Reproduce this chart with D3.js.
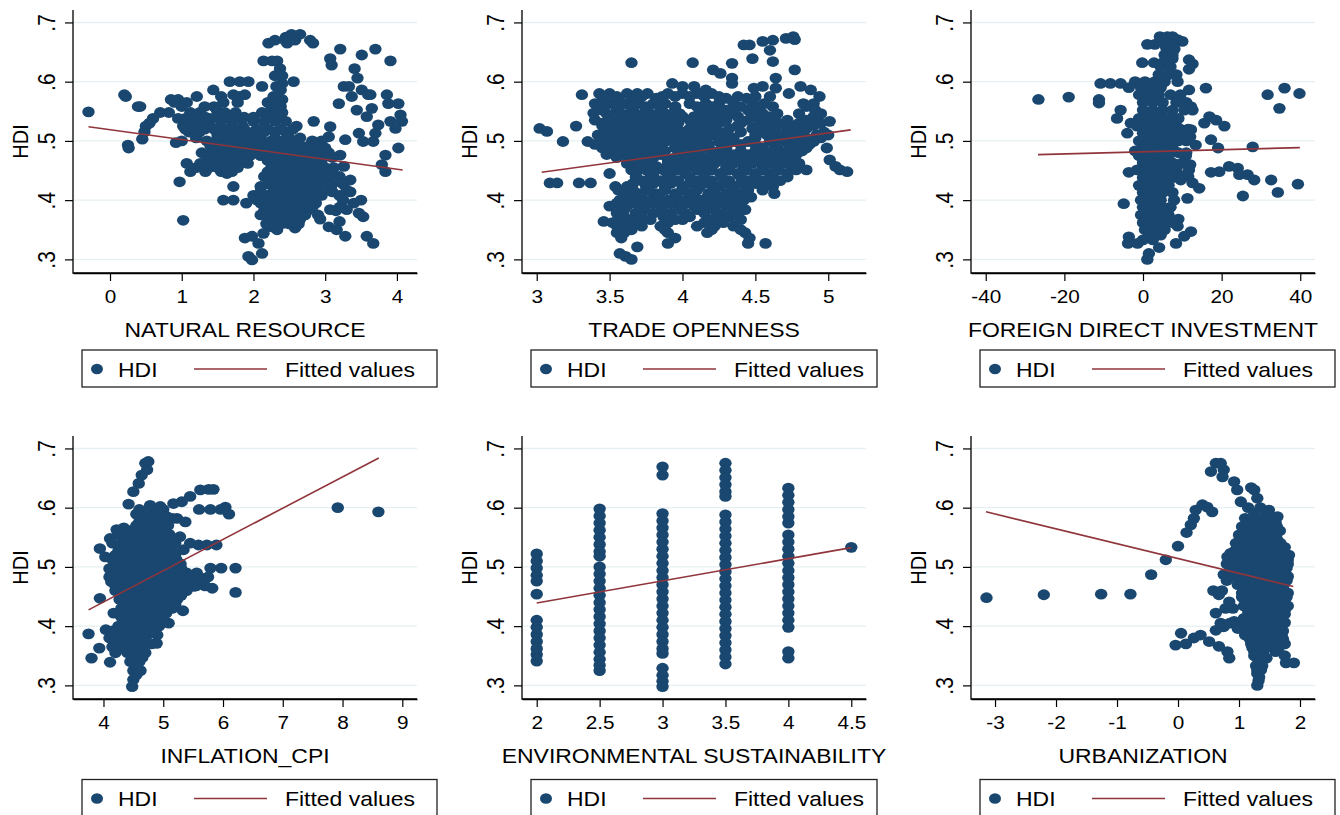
<!DOCTYPE html>
<html>
<head>
<meta charset="utf-8">
<script src="https://cdn.jsdelivr.net/npm/d3@7"></script>
<style>
  html, body { margin: 0; padding: 0; background: #fff; }
  svg { display: block; }
  text { font-family: "Liberation Sans", Arial, Helvetica, sans-serif; fill: #000; }
</style>
</head>
<body>
<script>
// ---- data: rows are [HDI, x1, x2, ...] ----
const nrRows = [
  [.68, 2.53, 2.65], [.675, 2.45], [.67, 2.3, 2.44, 2.58, 2.79], [.665, 2.21, 2.47, 2.83],
  [.655, 3.21, 3.7], [.645, 3.51], [.639, 3.07], [.635, 2.14, 2.26, 2.33, 3.91], [.628, 3.09],
  [.622, 2.37, 3.41], [.61, 2.3, 2.4], [.606, 3.45], [.6, 1.67, 1.81, 1.93, 2.56], [.597, 2.4],
  [.592, 2.12, 2.32, 3.26, 3.33], [.586, 1.44, 2.38, 3.51], [.578, 0.2, 1.72, 1.88, 3.6, 3.63, 3.86],
  [.575, 0.22, 1.21, 1.55, 1.8, 2.28, 3.37], [.57, 0.85, 0.95, 2.4],
  [.565, 0.9, 1.07, 1.58, 1.78, 2.2, 2.35], [.563, 3.19, 3.88, 4.02],
  [.558, 0.39, 0.42, 1.0, 1.32, 1.45, 2.25, 2.38], [.555, 3.65], [.552, 1.49, 3.44],
  [.548, 0.7, 0.82, 1.12, 1.25, 1.6, 1.75, 2.12, 2.25, 2.4], [.544, 4.05], [.541, 3.58],
  [.538, 0.6, 0.95, 1.05, 1.38, 1.52, 1.66, 1.8], [.533, 2.0, 2.15, 2.3, 2.45, 2.84, 3.91, 4.07],
  [.53, 0.55, 1.15, 1.28], [.527, 3.74], [.525, 0.5, 1.02, 1.4, 1.55, 1.7, 1.85, 2.6], [.524, 3.07],
  [.521, 3.98], [.515, 0.48, 1.1, 1.25, 2.0, 2.15, 2.3, 2.45], [.513, 3.47, 3.7],
  [.51, 1.5, 1.65, 1.8, 1.95], [.507, 3.05], [.503, 0.45], [.502, 3.28],
  [.5, 1.0, 1.35, 2.1, 2.25, 2.4, 2.55, 2.82, 2.95], [.499, 3.53, 3.67],
  [.497, 0.92, 1.55, 1.7, 1.85], [.493, 0.25], [.488, 0.26, 1.5, 1.98, 2.12, 2.7, 2.85, 3.0, 4.02],
  [.485, 1.65, 1.8, 2.3, 2.45], [.476, 3.21, 3.84], [.475, 1.35, 1.5, 1.95, 2.1, 2.55, 2.7, 2.85, 3.0],
  [.472, 1.65, 1.8, 2.25, 2.4, 3.1], [.462, 1.07, 1.26, 1.45, 1.62, 1.78, 1.92, 2.3, 2.45, 2.6, 2.75, 2.9],
  [.46, 3.79], [.457, 3.26], [.448, 1.12, 1.33, 1.55, 1.7, 2.2, 2.38, 2.52, 2.66, 2.8, 2.95, 3.84],
  [.445, 1.63, 3.08], [.434, 2.25, 2.4, 2.55, 2.7, 2.85, 3.0, 3.35], [.431, 0.97], [.423, 1.72, 2.1],
  [.42, 2.3, 2.45, 2.6, 2.75, 2.9, 3.05], [.417, 3.3], [.408, 2.0, 2.2, 2.35, 2.5, 2.65, 2.8, 2.95, 3.2],
  [.4, 1.58, 1.72], [.395, 1.9, 2.1, 2.28, 2.42, 2.57, 2.72, 2.87, 3.4], [.384, 3.07, 3.3],
  [.382, 2.15, 2.3, 2.45, 2.6, 2.75, 3.15], [.378, 3.47], [.372, 3.53], [.368, 2.2, 2.35, 2.5, 2.65, 2.93],
  [.366, 1.02], [.364, 3.2], [.361, 2.42], [.355, 2.25, 3.05], [.353, 2.58], [.35, 2.33, 3.16],
  [.344, 2.14], [.339, 1.98, 3.28, 3.58], [.336, 1.88], [.327, 2.07, 3.67], [.31, 2.12], [.305, 1.93], [.299, 1.98],
  [.549, -0.30],
  [.54, 1.2, 1.33, 1.47, 1.6, 1.73, 1.87, 2.0, 2.2, 2.35],
  [.52, 1.05, 1.18, 1.32, 1.45, 1.6, 1.73, 1.87, 2.05, 2.2, 2.38, 2.55],
  [.505, 1.2, 1.5, 1.65, 1.8, 1.95, 2.1, 2.3, 2.5, 2.65],
  [.492, 1.4, 1.55, 1.7, 1.85, 2.0, 2.2, 2.35, 2.52, 2.65, 2.78, 2.92],
  [.48, 1.28, 1.42, 1.6, 1.75, 1.9, 2.05, 2.2, 2.4, 2.6, 2.75, 2.9, 3.05],
  [.467, 1.4, 1.55, 1.7, 1.85, 2.2, 2.35, 2.5, 2.65, 2.8, 2.95],
  [.455, 1.2, 1.38, 1.5, 1.62, 1.78, 2.25, 2.4, 2.55, 2.7, 2.85, 3.0, 3.12],
  [.44, 2.15, 2.3, 2.45, 2.6, 2.75, 2.9, 3.05, 3.2],
  [.427, 2.2, 2.35, 2.5, 2.65, 2.8, 2.95, 3.1, 3.25],
  [.414, 2.1, 2.28, 2.42, 2.57, 2.72, 2.87, 3.1, 3.35],
  [.4, 2.05, 2.2, 2.35, 2.5, 2.65, 2.8, 3.25, 3.5],
  [.388, 2.2, 2.37, 2.52, 2.67, 2.82, 3.2],
  [.375, 2.1, 2.27, 2.42, 2.57, 2.72, 2.9],
  [.36, 2.18, 2.3, 2.5, 2.63]
];

const toRows = [
  [.676, 4.76], [.671, 4.77], [.673, 4.71], [.67, 4.62], [.668, 4.55], [.662, 4.42, 4.46], [.653, 4.6],
  [.639, 4.48], [.634, 4.62], [.632, 3.65, 4.07], [.631, 4.34], [.62, 4.21, 4.77], [.614, 4.26],
  [.606, 4.34, 4.64], [.597, 3.93, 4.34], [.592, 4.0, 4.08, 4.55, 4.81], [.589, 4.49, 4.64],
  [.586, 4.16, 4.88], [.58, 3.43, 3.5, 3.62, 3.69, 3.76, 3.9, 4.0, 4.1, 4.2, 4.73], [.578, 3.31],
  [.575, 4.6, 4.94], [.572, 3.46, 3.56, 3.66, 3.82, 4.3, 4.44],
  [.563, 3.4, 3.5, 3.6, 3.7, 3.8, 3.88, 4.05, 4.16, 4.25, 4.35, 4.48, 4.56, 4.83, 4.9],
  [.552, 3.45, 3.55, 3.65, 3.75, 3.85, 3.95, 4.12, 4.21, 4.3, 4.45, 4.53, 4.91], [.547, 3.39],
  [.541, 3.5, 3.6, 3.7, 3.8, 3.9, 4.0, 4.08, 4.2, 4.28, 4.38, 4.5, 4.6, 4.9], [.533, 5.01],
  [.53, 3.45, 3.55, 3.65, 3.75, 3.85, 3.97, 4.25, 4.4, 4.55, 4.66, 4.8, 4.88, 4.95], [.525, 3.27],
  [.521, 3.02, 3.5, 3.6, 3.7, 3.8, 3.9, 4.05, 4.15, 4.32, 4.48, 4.6, 4.72, 4.85], [.516, 3.07],
  [.51, 3.42, 3.55, 3.65, 3.75, 3.85, 3.95, 4.1, 4.2, 4.3, 4.5, 4.58, 4.68, 4.78, 4.92, 5.0],
  [.499, 3.18, 3.35, 3.45, 3.55, 3.65, 3.75, 3.88, 4.0, 4.12, 4.25, 4.35, 4.45, 4.6, 4.7, 4.82, 4.9],
  [.488, 3.45, 3.58, 3.7, 3.8, 3.95, 4.05, 4.18, 4.3, 4.55, 4.65, 4.75, 4.85, 4.99],
  [.477, 3.48, 3.6, 3.72, 3.85, 3.98, 4.1, 4.22, 4.35, 4.45, 4.58, 4.68, 4.78],
  [.468, 3.65, 3.75, 3.9, 4.0, 4.12, 4.25, 4.38, 4.5, 4.62, 4.72, 5.01],
  [.457, 3.7, 3.82, 3.95, 4.05, 4.17, 4.3, 4.42, 4.55, 4.65, 4.75, 5.05], [.451, 4.85, 5.08], [.448, 5.13],
  [.445, 3.5, 3.68, 3.8, 3.92, 4.02, 4.15, 4.26, 4.38, 4.5, 4.6, 4.72],
  [.433, 3.72, 3.85, 3.97, 4.1, 4.2, 4.32, 4.45, 4.55, 4.67], [.429, 3.09, 3.14, 3.29, 3.37],
  [.423, 3.54, 3.62, 3.75, 3.88, 4.0, 4.12, 4.25, 4.35, 4.45, 4.55, 4.62],
  [.411, 3.6, 3.7, 3.82, 3.95, 4.05, 4.18, 4.3, 4.4, 4.63],
  [.4, 3.57, 3.66, 3.78, 3.9, 4.02, 4.12, 4.22, 4.32, 4.42],
  [.39, 3.5, 3.62, 3.73, 3.85, 3.97, 4.08, 4.2, 4.3, 4.4],
  [.378, 3.55, 3.68, 3.8, 3.92, 4.02, 4.15, 4.28, 4.38],
  [.367, 3.56, 3.65, 3.78, 3.95, 4.0, 4.18, 4.4], [.364, 3.46],
  [.356, 3.55, 3.62, 3.72, 3.85, 4.1, 4.22, 4.35], [.345, 3.55, 3.6, 3.9, 4.17, 4.43],
  [.336, 3.58, 3.95, 4.46], [.327, 3.9, 4.45, 4.57], [.321, 3.69], [.31, 3.57], [.305, 3.61], [.3, 3.65],
  [.575, 3.45, 3.55, 3.72, 3.86, 3.95, 4.05, 4.15, 4.25, 4.38, 4.5],
  [.558, 3.45, 3.55, 3.65, 3.75, 3.85, 3.95, 4.1, 4.2, 4.4, 4.52, 4.62, 4.85],
  [.546, 3.48, 3.58, 3.68, 3.78, 3.88, 3.98, 4.15, 4.25, 4.35, 4.55, 4.65, 4.8, 4.95],
  [.535, 3.4, 3.52, 3.62, 3.72, 3.82, 3.92, 4.05, 4.15, 4.3, 4.45, 4.6, 4.72, 4.85],
  [.526, 3.45, 3.55, 3.65, 3.75, 3.85, 3.95, 4.1, 4.2, 4.38, 4.52, 4.65, 4.78, 4.9],
  [.515, 3.48, 3.6, 3.7, 3.8, 3.9, 4.0, 4.15, 4.25, 4.4, 4.55, 4.63, 4.73, 4.83, 4.97],
  [.505, 3.5, 3.6, 3.7, 3.8, 3.9, 4.05, 4.15, 4.25, 4.35, 4.5, 4.62, 4.75, 4.85, 4.95],
  [.494, 3.4, 3.5, 3.6, 3.7, 3.82, 3.95, 4.06, 4.18, 4.3, 4.4, 4.5, 4.65, 4.78, 4.87],
  [.483, 3.52, 3.65, 3.75, 3.88, 4.0, 4.12, 4.25, 4.4, 4.5, 4.62, 4.72, 4.82],
  [.472, 3.55, 3.7, 3.8, 3.95, 4.05, 4.18, 4.3, 4.42, 4.55, 4.66, 4.77],
  [.462, 3.62, 3.78, 3.9, 4.0, 4.1, 4.22, 4.35, 4.48, 4.6, 4.7, 4.8],
  [.451, 3.65, 3.75, 3.87, 3.97, 4.1, 4.2, 4.32, 4.44, 4.55, 4.66, 4.78],
  [.439, 3.68, 3.78, 3.9, 4.05, 4.15, 4.27, 4.4, 4.5, 4.62, 4.72],
  [.428, 3.66, 3.8, 3.92, 4.05, 4.18, 4.3, 4.4, 4.5, 4.58],
  [.417, 3.56, 3.66, 3.77, 3.88, 4.0, 4.1, 4.22, 4.35, 4.45, 4.55],
  [.405, 3.62, 3.72, 3.84, 3.96, 4.07, 4.17, 4.27, 4.37, 4.47],
  [.395, 3.55, 3.67, 3.79, 3.91, 4.03, 4.15, 4.25, 4.35],
  [.384, 3.6, 3.74, 3.86, 3.98, 4.1, 4.22, 4.33, 4.43],
  [.372, 3.6, 3.72, 3.87, 4.05, 4.23, 4.33],
  [.362, 3.52, 3.6, 3.7, 3.9, 4.15, 4.28],
  [.35, 3.58, 3.65, 3.88, 4.2, 4.4]
];

const fdiRows = [
  [.676, 4.3, 6.2, 7.5], [.671, 8.8], [.668, 10], [.663, 1.1, 3.0, 5.5, 7.5], [.655, 6, 8],
  [.645, 5.5, 7.5], [.639, 7.5], [.637, 11.7], [.632, -0.2, 2.8, 5], [.63, 12.6], [.625, 4.5, 7],
  [.621, 11.7], [.612, 4, 6.5, 8.5], [.6, -2, 0.5, 3, 5.5, 8.8], [.597, -10.8, -8.3, -5.7],
  [.59, -3.6, -0.5, 2, 4.5], [.589, 16, 36], [.586, 11.7], [.58, 39.8],
  [.578, -1, 1.5, 4, 7, 9.5, 31.7], [.574, -18.9], [.57, -26.6, -11.2], [.565, 0, 2.5, 5, 8.5, 11],
  [.564, -11.2], [.558, 12.2], [.555, 34.7], [.552, -5.7, 0, 2.5, 5, 7.5, 10.5, 12.6], [.541, 16.9],
  [.538, -6.6, -1, 1.5, 4, 6.5, 9], [.535, 18.6], [.53, -3.1, 15.6], [.525, -1.5, 1, 3.5, 6, 8.5, 20.7],
  [.519, 12.2], [.513, -4, 0, 2.5, 5, 7.5, 8.8, 10], [.502, 17.3], [.5, -1, 1.5, 4, 6.5, 9, 11],
  [.493, 13.4], [.49, 27.9], [.488, 0, 2.5, 5, 7.5, 19.1], [.483, -2], [.475, -1, 1.5, 4, 6.5, 10.9],
  [.463, 0, 2.5, 5, 7.5, 10], [.457, 21.9], [.454, 24.1], [.451, 11.7, -1.5], [.45, 1, 3.5, 6, 8.5],
  [.448, 19.4], [.447, -3.6, 17.3], [.443, 24.5, 26.6], [.438, 0, 2.5, 5, 7.5],
  [.434, 9.6, 28.3, 32.6], [.429, 12.6], [.427, 39.4], [.425, -1, 1.5, 4, 6.5], [.42, 14.3],
  [.413, 0, 2.5, 5, 7.5, 34.3], [.407, 25.4], [.403, 11.3], [.4, -0.5, 2, 4.5, 7.9], [.394, -4.9],
  [.388, 0, 2.5, 5, 7], [.375, -0.5, 1.5, 4, 6.5], [.368, 9], [.362, 0, 2.5, 5, 7.5], [.356, 8.8],
  [.35, 0.5, 3, 5.5], [.347, 12.2], [.341, 4.5], [.339, 1.5, 10.5], [.338, -3.6], [.333, 0, 2.5],
  [.327, -3.8, -1.4, 8.4], [.32, 4.1], [.31, 1.5], [.3, 1.1],
  [.52, 9.5, 11.5], [.507, 10.5, 12], [.48, 9, 11], [.46, 9, 12], [.44, 10, 11.5]
];

const cpiRows = [
  [.678, 4.75], [.675, 4.7], [.664, 4.73], [.655, 4.64], [.641, 4.59], [.631, 5.76, 5.84], [.63, 5.62],
  [.627, 4.5], [.619, 5.45], [.61, 5.31], [.607, 5.17], [.606, 4.42], [.604, 4.78], [.602, 4.95],
  [.6, 7.92], [.597, 5.6, 5.79, 5.96], [.601, 6.04], [.593, 8.6], [.589, 4.55, 4.72, 4.88, 6.1],
  [.585, 5.06], [.582, 5.23], [.576, 4.6, 4.77, 4.93, 5.37], [.566, 4.34],
  [.563, 4.22, 4.5, 4.67, 4.84, 5.0], [.551, 5.28], [.548, 4.11, 4.35, 4.52, 4.69, 4.86, 5.03, 5.15],
  [.537, 5.59, 5.73, 5.89], [.533, 4.4, 4.57, 4.74, 4.91, 5.08], [.531, 3.94], [.529, 5.34],
  [.52, 4.2, 4.35, 4.52, 4.69, 4.86, 5.03, 5.2], [.517, 4.03], [.505, 4.27, 4.44, 4.61, 4.78, 4.95, 5.12, 5.29],
  [.498, 5.79, 5.97, 6.21], [.49, 4.2, 4.37, 4.54, 4.71, 4.88, 5.05, 5.22, 5.39, 5.56], [.478, 5.62],
  [.475, 4.13, 4.3, 4.47, 4.64, 4.81, 4.98, 5.15, 5.32, 5.48], [.467, 5.51], [.464, 5.82],
  [.46, 4.2, 4.37, 4.54, 4.71, 4.88, 5.05, 5.22, 5.39], [.457, 6.21], [.447, 3.94],
  [.445, 4.27, 4.44, 4.61, 4.78, 4.95, 5.12, 5.23], [.43, 4.3, 4.47, 4.64, 4.81, 4.98, 5.15],
  [.426, 5.33], [.422, 4.17], [.415, 4.3, 4.47, 4.64, 4.81, 4.98], [.405, 5.09],
  [.4, 4.25, 4.42, 4.59, 4.76, 4.93], [.394, 4.04], [.387, 3.75], [.385, 4.22, 4.39, 4.56, 4.73, 4.9],
  [.38, 4.1], [.371, 4.89], [.37, 4.3, 4.47, 4.64, 4.8], [.365, 4.15], [.363, 3.93], [.355, 4.2, 4.4, 4.55, 4.7],
  [.346, 3.8], [.34, 4.45, 4.6], [.339, 4.11], [.325, 4.5, 4.62], [.31, 4.5], [.298, 4.48],
  [.597, 4.6, 4.75, 4.9, 5.0], [.582, 4.68, 4.85, 5.0, 5.15], [.57, 4.55, 4.72, 4.9, 5.08],
  [.555, 4.25, 4.42, 4.6, 4.78, 4.95, 5.1], [.54, 4.15, 4.3, 4.48, 4.65, 4.82, 5.0, 5.2, 5.45],
  [.527, 4.25, 4.45, 4.62, 4.8, 4.97, 5.15], [.512, 4.15, 4.35, 4.52, 4.7, 4.87, 5.05, 5.22],
  [.497, 4.1, 4.3, 4.47, 4.65, 4.82, 5.0, 5.15, 5.3],
  [.483, 4.1, 4.28, 4.45, 4.62, 4.8, 4.97, 5.12, 5.3, 5.45, 5.6, 5.75],
  [.468, 4.2, 4.38, 4.55, 4.72, 4.9, 5.07, 5.25, 5.4, 5.55, 5.7],
  [.452, 4.3, 4.47, 4.64, 4.81, 4.98, 5.15, 5.3], [.437, 4.35, 4.52, 4.69, 4.86, 5.03, 5.2],
  [.422, 4.4, 4.57, 4.74, 4.9, 5.05], [.407, 4.38, 4.55, 4.72, 4.88], [.392, 4.15, 4.32, 4.5, 4.67, 4.83],
  [.377, 4.2, 4.38, 4.55, 4.7], [.362, 4.35, 4.5, 4.65], [.347, 4.5, 4.65], [.333, 4.55], [.318, 4.55]
];

// environmental sustainability: columns are [x, HDI1, HDI2, ...]
const esCols = [
  [2, .522, .51, .498, .486, .476, .454, .41, .398, .386, .374, .362, .352, .341],
  [2.5, .598, .586, .574, .562, .55, .538, .526, .518, .5, .488, .476, .464, .452, .44, .428, .416,
    .404, .392, .38, .368, .356, .344, .334, .325],
  [3, .669, .655, .59, .578, .566, .554, .542, .53, .518, .506, .494, .482, .47, .458, .446, .434,
    .422, .41, .398, .386, .374, .362, .354, .329, .317, .307, .298],
  [3.5, .675, .663, .651, .639, .627, .619, .588, .576, .564, .552, .54, .528, .516, .504, .492, .48,
    .468, .456, .444, .432, .42, .408, .396, .384, .372, .36, .348, .336],
  [4, .633, .621, .609, .597, .585, .574, .554, .542, .53, .518, .506, .494, .482, .47, .458, .446,
    .434, .422, .41, .398, .357, .346],
  [4.5, .533]
];

const urbRows = [
  [.675, 0.62, 0.7], [.664, 0.75], [.661, 0.54], [.652, 0.73], [.644, 0.92], [.634, 1.2],
  [.63, 0.97, 1.25], [.616, 1.3], [.61, 1.03], [.605, 0.4], [.601, 0.48], [.6, 1.15, 1.35],
  [.596, 0.29, 1.49], [.593, 0.56], [.585, 1.63], [.582, 0.26, 1.1, 1.25, 1.4, 1.55], [.571, 0.21],
  [.568, 1.05, 1.2, 1.35, 1.5, 1.62], [.558, 0.14], [.554, 1.0, 1.15, 1.3, 1.45, 1.6],
  [.54, 0.95, 1.1, 1.25, 1.4, 1.55, 1.68], [.535, 0], [.526, 0.92, 1.07, 1.22, 1.37, 1.52, 1.67],
  [.523, 0.86], [.52, 1.82], [.517, 0.81], [.512, -0.2, 0.95, 1.1, 1.25, 1.4, 1.55, 1.7, 1.8],
  [.498, 0.88, 1.03, 1.18, 1.33, 1.48, 1.63, 1.78], [.487, -0.44, 0.75],
  [.484, 0.92, 1.07, 1.22, 1.37, 1.52, 1.67, 1.8], [.47, 0.98, 1.13, 1.28, 1.43, 1.58, 1.73],
  [.456, 1.05, 1.2, 1.35, 1.5, 1.65, 1.8], [.454, -1.26, -0.78], [.453, -2.2, 0.67], [.448, -3.14],
  [.441, 0.84, 1.12, 1.27, 1.42, 1.57, 1.72], [.427, 1.15, 1.3, 1.45, 1.6, 1.75], [.422, 0.62],
  [.413, 1.08, 1.25, 1.4, 1.55, 1.7], [.408, 0.92], [.399, 0.75, 1.05, 1.2, 1.35, 1.5, 1.65],
  [.393, 0.62], [.388, 0.05], [.385, 0.37, 1.1, 1.25, 1.4, 1.55, 1.7], [.38, 0.26], [.374, 0.51],
  [.37, 0.13, 1.2, 1.35, 1.5, 1.65, 1.75], [.368, -0.04], [.366, 0.67], [.357, 0.81, 1.25, 1.4, 1.6],
  [.346, 0.84, 1.3, 1.45], [.338, 1.77, 1.9], [.333, 1.28, 1.38], [.32, 1.3], [.308, 1.32], [.3, 1.3],
  [.59, 1.25, 1.45], [.575, 1.15, 1.32, 1.48, 1.6], [.561, 1.07, 1.22, 1.38, 1.52, 1.67],
  [.547, 1.02, 1.18, 1.33, 1.48, 1.62], [.533, 0.97, 1.15, 1.3, 1.45, 1.6, 1.75],
  [.519, 0.88, 1.02, 1.17, 1.32, 1.47, 1.62, 1.75], [.505, 0.8, 0.95, 1.1, 1.25, 1.4, 1.55, 1.7, 1.8],
  [.491, 0.85, 1.0, 1.15, 1.3, 1.45, 1.6, 1.74], [.477, 0.8, 1.05, 1.2, 1.35, 1.5, 1.65, 1.78],
  [.463, 1.12, 1.27, 1.42, 1.57, 1.72], [.449, 1.05, 1.2, 1.35, 1.5, 1.65, 1.78],
  [.434, 1.08, 1.22, 1.37, 1.52, 1.67, 1.8], [.42, 1.15, 1.3, 1.47, 1.62, 1.75],
  [.406, 1.15, 1.3, 1.45, 1.6, 1.75], [.392, 1.15, 1.3, 1.45, 1.62, 1.72],
  [.378, 1.18, 1.3, 1.42, 1.6, 1.72], [.364, 1.22, 1.35, 1.45, 1.65], [.35, 1.25, 1.38, 1.75],
  [.34, 1.35], [.326, 1.3, 1.36], [.314, 1.33],
  [.46, 0.58, 0.72], [.43, 0.78, 0.9], [.405, 0.7, 0.85], [.396, 0.98]
];

// fitted values: end points of each regression line [x, HDI]
const nrFit = [[-0.30, .524], [4.08, .451]];
const toFit = [[3.034, .447], [5.154, .5186]];
const fdiFit = [[-26.7, .4769], [39.9, .4887]];
const cpiFit = [[3.75, .4275], [8.607, .684]];
const esFit = [[2, .439], [4.5, .5325]];
const urbFit = [[-3.148, .593], [1.89, .4668]];

// tick values
const yTicks = [.3, .4, .5, .6, .7];
const yTickLabels = [".3", ".4", ".5", ".6", ".7"];
const nrTicks = [0, 1, 2, 3, 4];
const toTicks = [3, 3.5, 4, 4.5, 5];
const fdiTicks = [-40, -20, 0, 20, 40];
const cpiTicks = [4, 5, 6, 7, 8, 9];
const esTicks = [2, 2.5, 3, 3.5, 4, 4.5];
const urbTicks = [-3, -2, -1, 0, 1, 2];

const titles = ["NATURAL RESOURCE", "TRADE OPENNESS", "FOREIGN DIRECT INVESTMENT",
  "INFLATION_CPI", "ENVIRONMENTAL SUSTAINABILITY", "URBANIZATION"];

const fromRows = rows => rows.flatMap(([y, ...xs]) => xs.map(x => [x, y]));
const fromCols = cols => cols.flatMap(([x, ...ys]) => ys.map(y => [x, y]));

const panels = [
  { pts: fromRows(nrRows), fit: nrFit, ticks: nrTicks, dom: [-0.516, 4.28] },
  { pts: fromRows(toRows), fit: toFit, ticks: toTicks, dom: [2.899, 5.259] },
  { pts: fromRows(fdiRows), fit: fdiFit, ticks: fdiTicks, dom: [-43.75, 43.75] },
  { pts: fromRows(cpiRows), fit: cpiFit, ticks: cpiTicks, dom: [3.49, 9.246] },
  { pts: fromCols(esCols), fit: esFit, ticks: esTicks, dom: [1.883, 4.617] },
  { pts: fromRows(urbRows), fit: urbFit, ticks: urbTicks, dom: [-3.394, 2.246] }
];

// ---- layout ----
const W = 1340, H = 815;
const colX = [73, 522, 971];
const legW = [355, 346, 355];
const rowY = [10, 436];
const legendGap = [77, 80.5];
const pw = 344, ph = 263;
const navy = "#1a476f", maroon = "#90353b";
const sx = 1.12; // glyphs in the picture are a little wider than tall

const svg = d3.select("body").append("svg").attr("width", W).attr("height", H);

panels.forEach((p, i) => {
  const r = Math.floor(i / 3), c = i % 3;
  const left = colX[c], top = rowY[r];
  const g = svg.append("g").attr("transform", `translate(${left},${top})`);

  const x = d3.scaleLinear().domain(p.dom).range([0, pw]);
  const y = d3.scaleLinear().domain([0.277, 0.721]).range([ph, 0]);

  // grid
  g.selectAll(".grid").data(yTicks).enter().append("line")
    .attr("x1", 1).attr("x2", pw)
    .attr("y1", d => y(d)).attr("y2", d => y(d))
    .attr("stroke", "#e6eff1").attr("stroke-width", 1.4);

  // points
  g.append("g").selectAll("ellipse").data(p.pts).enter().append("ellipse")
    .attr("cx", d => x(d[0])).attr("cy", d => y(d[1]))
    .attr("rx", 6.2).attr("ry", 5.4)
    .attr("fill", navy);

  // fitted line
  g.append("path").datum(p.fit)
    .attr("d", d3.line().x(d => x(d[0])).y(d => y(d[1])))
    .attr("stroke", maroon).attr("stroke-width", 1.6).attr("fill", "none");

  // x axis
  const xa = g.append("g").attr("transform", `translate(0,${ph})`)
    .call(d3.axisBottom(x).tickValues(p.ticks).tickSize(8).tickSizeOuter(0).tickFormat(d => String(d)));
  xa.select(".domain").attr("stroke", "#000").attr("stroke-width", 1.3);
  xa.selectAll(".tick line").attr("stroke", "#000").attr("stroke-width", 1.2);
  xa.selectAll(".tick text").attr("y", 0).attr("dy", 0)
    .attr("transform", `translate(0,30.3) scale(${sx},1)`)
    .style("font-size", "18.5px").attr("font-family", null).attr("fill", "#000");

  // y axis
  const ya = g.append("g")
    .call(d3.axisLeft(y).tickValues(yTicks).tickSize(8).tickSizeOuter(0).tickFormat((d, k) => yTickLabels[k]));
  ya.select(".domain").attr("stroke", "#000").attr("stroke-width", 1.3);
  ya.selectAll(".tick line").attr("stroke", "#000").attr("stroke-width", 1.2);
  ya.selectAll(".tick text").attr("x", 0).attr("dy", 0).attr("text-anchor", "middle")
    .attr("transform", `translate(-18,0) scale(${sx},1) rotate(-90)`)
    .style("font-size", "21px").attr("font-family", null).attr("fill", "#000");
  ya.select(".domain").attr("d", `M0,0V${ph}H${pw}`);

  // axis titles
  g.append("text").attr("text-anchor", "middle")
    .attr("transform", `translate(${pw / 2},${ph + 64}) scale(${sx},1)`)
    .style("font-size", "20.5px").text(titles[i]);
  g.append("text").attr("text-anchor", "middle")
    .attr("transform", `translate(-45,${ph / 2}) scale(${sx},1) rotate(-90)`)
    .style("font-size", "20px").text("HDI");

  // legend
  const lg = g.append("g").attr("transform", `translate(9,${ph + legendGap[r]})`);
  lg.append("rect").attr("width", legW[c]).attr("height", 37)
    .attr("fill", "#fff").attr("stroke", "#222").attr("stroke-width", 1.3);
  lg.append("ellipse").attr("cx", 15).attr("cy", 19).attr("rx", 6).attr("ry", 5.3).attr("fill", navy);
  lg.append("text").attr("transform", `translate(36,26.5) scale(${sx},1)`)
    .style("font-size", "20.5px").text("HDI");
  lg.append("line").attr("x1", 112).attr("x2", 185).attr("y1", 19).attr("y2", 19)
    .attr("stroke", maroon).attr("stroke-width", 1.6);
  lg.append("text").attr("transform", `translate(203,26.5) scale(${sx},1)`)
    .style("font-size", "20.5px").text("Fitted values");
});
</script>
</body>
</html>
